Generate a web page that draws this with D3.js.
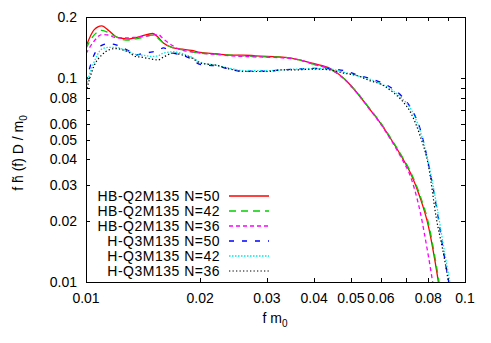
<!DOCTYPE html>
<html>
<head>
<meta charset="utf-8">
<script src="https://cdn.jsdelivr.net/npm/d3@7"></script>
<style>
  body { margin: 0; background: #fff; }
  svg text { font-family: "Liberation Sans", Arial, sans-serif; fill: #000; }
</style>
</head>
<body>
<div id="chart"></div>
<script>
// frequency grid (f m0)
const freq = [0.01, 0.0105, 0.011, 0.0115, 0.012, 0.0125, 0.013, 0.0135, 0.014, 0.015, 0.0155,
  0.016, 0.017, 0.018, 0.019, 0.02, 0.022, 0.024, 0.026, 0.028, 0.03, 0.033, 0.036, 0.04,
  0.044, 0.048, 0.052, 0.056, 0.06, 0.064, 0.068, 0.072, 0.076, 0.08, 0.084, 0.088, 0.092];

const hbN50 = [0.143, 0.173, 0.181, 0.171, 0.160, 0.157, 0.156, 0.158, 0.161, 0.166, 0.159,
  0.149, 0.141, 0.139, 0.137, 0.134, 0.132, 0.130, 0.130, 0.129, 0.128, 0.127, 0.124, 0.118,
  0.112, 0.0994, 0.0845, 0.0708, 0.0598, 0.0498, 0.0413, 0.0339, 0.0262, 0.0189, 0.0116, 0.0066, 0.004];
const hbN42 = [0.140, 0.163, 0.172, 0.167, 0.160, 0.155, 0.154, 0.156, 0.158, 0.163, 0.157,
  0.149, 0.141, 0.138, 0.135, 0.133, 0.1316, 0.130, 0.129, 0.128, 0.1275, 0.127, 0.124, 0.117,
  0.111, 0.0995, 0.0848, 0.0712, 0.0602, 0.0502, 0.0418, 0.0344, 0.0268, 0.0196, 0.0121, 0.0070, 0.0042];
const hbN36 = [0.132, 0.152, 0.164, 0.163, 0.158, 0.158, 0.158, 0.159, 0.160, 0.163, 0.164,
  0.156, 0.144, 0.137, 0.135, 0.133, 0.131, 0.129, 0.128, 0.1275, 0.127, 0.126, 0.124, 0.117,
  0.111, 0.0992, 0.0843, 0.0705, 0.0595, 0.0493, 0.0405, 0.0325, 0.0225, 0.0135, 0.0078, 0.0048, 0.003];
const hN50 = [0.096, 0.130, 0.145, 0.148, 0.146, 0.141, 0.136, 0.130, 0.132, 0.135, 0.137,
  0.141, 0.133, 0.130, 0.124, 0.117, 0.115, 0.111, 0.108, 0.109, 0.1085, 0.110, 0.111, 0.112,
  0.1115, 0.109, 0.104, 0.0999, 0.0955, 0.0897, 0.0819, 0.0714, 0.0570, 0.0384, 0.0236, 0.0137, 0.0085];
const hN42 = [0.092, 0.120, 0.139, 0.142, 0.142, 0.139, 0.135, 0.131, 0.130, 0.128, 0.129,
  0.133, 0.135, 0.132, 0.127, 0.120, 0.116, 0.112, 0.109, 0.109, 0.109, 0.110, 0.111, 0.1115,
  0.111, 0.107, 0.103, 0.099, 0.094, 0.088, 0.080, 0.0706, 0.0558, 0.0388, 0.0244, 0.0146, 0.0091];
const hN36 = [0.086, 0.115, 0.130, 0.138, 0.140, 0.138, 0.134, 0.128, 0.127, 0.124, 0.123,
  0.127, 0.133, 0.130, 0.126, 0.119, 0.116, 0.111, 0.108, 0.108, 0.108, 0.110, 0.110, 0.111,
  0.110, 0.106, 0.103, 0.0975, 0.0935, 0.0865, 0.0782, 0.0675, 0.0527, 0.0376, 0.0206, 0.0134, 0.0082];

const seriesNames = ['HB-Q2M135 N=50', 'HB-Q2M135 N=42', 'HB-Q2M135 N=36',
  'H-Q3M135 N=50', 'H-Q3M135 N=42', 'H-Q3M135 N=36'];

const xTicks = [0.01, 0.02, 0.03, 0.04, 0.05, 0.06, 0.07, 0.08, 0.09, 0.1];
const xTickLabels = ['0.01', '0.02', '0.03', '0.04', '0.05', '0.06', '', '0.08', '', '0.1'];
const yTicks = [0.01, 0.02, 0.03, 0.04, 0.05, 0.06, 0.07, 0.08, 0.09, 0.1, 0.2];
const yTickLabels = ['0.01', '0.02', '0.03', '0.04', '0.05', '0.06', '', '0.08', '', '0.1', '0.2'];

const series = [
  { name: seriesNames[0], values: hbN50, color: '#ff0000', dash: null, w: 1.3 },
  { name: seriesNames[1], values: hbN42, color: '#00d000', dash: '7,5', w: 1.3 },
  { name: seriesNames[2], values: hbN36, color: '#ff00ff', dash: '4,3', w: 1.3 },
  { name: seriesNames[3], values: hN50, color: '#0000ff', dash: '5,8', w: 1.3 },
  { name: seriesNames[4], values: hN42, color: '#00e8e8', dash: '1.5,1.5', w: 1.3 },
  { name: seriesNames[5], values: hN36, color: '#000000', dash: '1.3,2.2', w: 1.2 },
];

const W = 491, H = 343;
const margin = { top: 17, right: 26, bottom: 61, left: 86 };
const width = W - margin.left - margin.right,
  height = H - margin.top - margin.bottom;

const svg = d3.select('#chart').append('svg')
  .attr('width', W).attr('height', H);

const g = svg.append('g')
  .attr('transform', `translate(${margin.left},${margin.top})`);

const x = d3.scaleLog().domain([0.01, 0.1]).range([0, width]);
const y = d3.scaleLog().domain([0.01, 0.2]).range([height, 0]);

g.append('clipPath').attr('id', 'plot-clip')
  .append('rect').attr('width', width).attr('height', height);

// ticks on all four sides, pointing inward
const tickLen = 4;
const ticks = g.append('g').attr('stroke', '#000').attr('stroke-width', 1);
xTicks.forEach((t) => {
  const px = Math.round(x(t)) + 0.5;
  ticks.append('line').attr('x1', px).attr('x2', px).attr('y1', height).attr('y2', height - tickLen);
  ticks.append('line').attr('x1', px).attr('x2', px).attr('y1', 0).attr('y2', tickLen);
});
yTicks.forEach((t) => {
  const py = Math.round(y(t)) + 0.5;
  ticks.append('line').attr('x1', 0).attr('x2', tickLen).attr('y1', py).attr('y2', py);
  ticks.append('line').attr('x1', width).attr('x2', width - tickLen).attr('y1', py).attr('y2', py);
});

g.selectAll('.x-label').data(xTicks).join('text')
  .attr('class', 'x-label')
  .attr('x', (d) => x(d))
  .attr('y', height + 21)
  .attr('text-anchor', 'middle')
  .style('font-size', '14px')
  .text((d, i) => xTickLabels[i]);

g.selectAll('.y-label').data(yTicks).join('text')
  .attr('class', 'y-label')
  .attr('x', -9)
  .attr('y', (d) => y(d) + 5)
  .attr('text-anchor', 'end')
  .style('font-size', '14px')
  .text((d, i) => yTickLabels[i]);

// curves
const line = d3.line()
  .x((d) => x(d[0]))
  .y((d) => y(d[1]))
  .curve(d3.curveMonotoneX);

const curves = g.append('g').attr('clip-path', 'url(#plot-clip)');
series.forEach((s) => {
  curves.append('path')
    .attr('d', line(freq.map((f, i) => [f, s.values[i]])))
    .attr('fill', 'none')
    .attr('stroke', s.color)
    .attr('stroke-width', s.w)
    .attr('stroke-dasharray', s.dash);
});

// legend
const legend = g.append('g');
series.forEach((s, i) => {
  const ly = 179 + i * 15;
  legend.append('text')
    .attr('x', 220 - margin.left)
    .attr('y', ly + 5)
    .attr('text-anchor', 'end')
    .style('font-size', '14px')
    .style('letter-spacing', '0.5px')
    .text(s.name);
  legend.append('line')
    .attr('x1', 229 - margin.left).attr('x2', 269 - margin.left)
    .attr('y1', ly).attr('y2', ly)
    .attr('stroke', s.color)
    .attr('stroke-width', s.w)
    .attr('stroke-dasharray', s.dash);
});

// frame
g.append('rect')
  .attr('x', 0.5).attr('y', 0.5)
  .attr('width', width).attr('height', height)
  .attr('fill', 'none').attr('stroke', '#000').attr('stroke-width', 1);

// axis titles
const xt = svg.append('text')
  .attr('x', 275).attr('y', 323)
  .attr('text-anchor', 'middle')
  .style('font-size', '14px');
xt.append('tspan').text('f m');
xt.append('tspan').attr('dy', 4).style('font-size', '10px').text('0');

const yt = svg.append('text')
  .attr('transform', 'translate(23,153) rotate(-90)')
  .attr('text-anchor', 'middle')
  .style('font-size', '14px');
yt.append('tspan').text('f h\u0303 (f) D / m');
yt.append('tspan').attr('dy', 4).style('font-size', '10px').text('0');
</script>
</body>
</html>
